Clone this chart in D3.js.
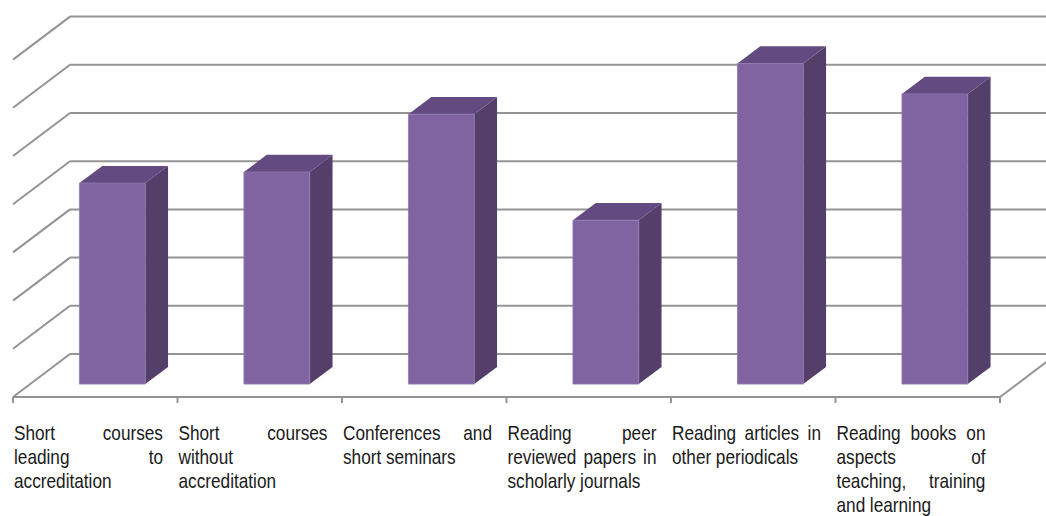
<!DOCTYPE html>
<html>
<head>
<meta charset="utf-8">
<script src="https://cdn.jsdelivr.net/npm/d3@7"></script>
<style>
  body { margin: 0; background: #fff; }
  svg { display: block; }
</style>
</head>
<body>
<svg id="chart"></svg>
<script>
// chart data
const categories = [
  "Short courses leading to accreditation",
  "Short courses without accreditation",
  "Conferences and short seminars",
  "Reading peer reviewed papers in scholarly journals",
  "Reading articles in other periodicals",
  "Reading books on aspects of teaching, training and learning"
];
// label line breaks as they appear under each bar
const labelLines = [
  ["Short courses", "leading to", "accreditation"],
  ["Short courses", "without", "accreditation"],
  ["Conferences and", "short seminars"],
  ["Reading peer", "reviewed papers in", "scholarly journals"],
  ["Reading articles in", "other periodicals"],
  ["Reading books on", "aspects of", "teaching, training", "and learning"]
];
const values = [41.7, 44, 56, 34, 66.5, 60.2];
const gridValues = [0, 10, 20, 30, 40, 50, 60, 70];

const width = 1046, height = 516;
const floorLeft = 13, floorRight = 1000, floorY = 397;
const depthX = 57, depthY = -43;       // oblique offset of the back wall
const barDepth0 = 0.3, barDepth1 = 0.7; // bar placement within floor depth
const gridColor = "#949494";

const svg = d3.select("#chart").attr("width", width).attr("height", height);

const x = d3.scaleBand().domain(categories).range([floorLeft, floorRight]).padding(0);
const y = d3.scaleLinear().domain([0, 70]).range([floorY, floorY - 337.4]);

// project floor-x, value and depth fraction to screen
function P(px, v, d) {
  return [px + d * depthX, y(v) + d * depthY];
}

const grid = svg.append("g").attr("fill", "none").attr("stroke", gridColor).attr("stroke-width", 2);

// back wall lines
grid.selectAll(".back").data(gridValues).join("line")
  .attr("x1", d => P(floorLeft, d, 1)[0]).attr("y1", d => P(floorLeft, d, 1)[1])
  .attr("x2", d => P(floorRight, d, 1)[0]).attr("y2", d => P(floorRight, d, 1)[1]);

// side wall lines
grid.selectAll(".side").data(gridValues).join("line")
  .attr("x1", d => P(floorLeft, d, 0)[0]).attr("y1", d => P(floorLeft, d, 0)[1])
  .attr("x2", d => P(floorLeft, d, 1)[0]).attr("y2", d => P(floorLeft, d, 1)[1]);

// floor front edge, right edge and ticks
grid.append("line")
  .attr("x1", floorLeft).attr("y1", y(0)).attr("x2", floorRight).attr("y2", y(0));
grid.append("line")
  .attr("x1", P(floorRight, 0, 0)[0]).attr("y1", P(floorRight, 0, 0)[1])
  .attr("x2", P(floorRight, 0, 1)[0]).attr("y2", P(floorRight, 0, 1)[1]);
const tickXs = categories.map(c => x(c)).concat([floorRight]);
grid.selectAll(".tick").data(tickXs).join("line")
  .attr("x1", d => d).attr("x2", d => d)
  .attr("y1", y(0)).attr("y2", y(0) + 6);

// 3D bars
const barW = x.bandwidth() * 0.4;
const bars = svg.append("g").selectAll("g").data(values).join("g");
const poly = pts => "M" + pts.map(p => p.join(",")).join("L") + "Z";

bars.each(function (v, i) {
  const g = d3.select(this);
  const x0 = x(categories[i]) + (x.bandwidth() - barW) / 2;
  const x1 = x0 + barW;
  // right side
  g.append("path")
    .attr("d", poly([P(x1, 0, barDepth0), P(x1, 0, barDepth1), P(x1, v, barDepth1), P(x1, v, barDepth0)]))
    .attr("fill", "#533f69");
  // top
  g.append("path")
    .attr("d", poly([P(x0, v, barDepth0), P(x0, v, barDepth1), P(x1, v, barDepth1), P(x1, v, barDepth0)]))
    .attr("fill", "#634b81");
  // front
  g.append("path")
    .attr("d", poly([P(x0, 0, barDepth0), P(x1, 0, barDepth0), P(x1, v, barDepth0), P(x0, v, barDepth0)]))
    .attr("fill", "#8064a2")
    .attr("stroke", "#9179b0").attr("stroke-width", 0.8);
});

// justified category labels
const fontSize = 21, squeeze = 0.82, lineH = 24, firstBase = 440, colW = 149;
const labels = svg.append("g")
  .attr("font-family", "'Liberation Sans', Arial, sans-serif")
  .attr("font-size", fontSize)
  .attr("fill", "#1a1a1a");

labelLines.forEach((lines, i) => {
  const left = x(categories[i]) + 1;
  lines.forEach((line, li) => {
    const words = line.split(" ");
    const yy = firstBase + li * lineH;
    const nodes = words.map(w => labels.append("text").text(w));
    const ws = nodes.map(n => n.node().getComputedTextLength() * squeeze);
    const total = d3.sum(ws);
    const last = li === lines.length - 1;
    const gap = (!last && words.length > 1) ? (colW - total) / (words.length - 1) : 4.6;
    let cx = left;
    nodes.forEach((n, k) => {
      n.attr("transform", `translate(${cx},${yy}) scale(${squeeze},1)`);
      cx += ws[k] + gap;
    });
  });
});
</script>
</body>
</html>
